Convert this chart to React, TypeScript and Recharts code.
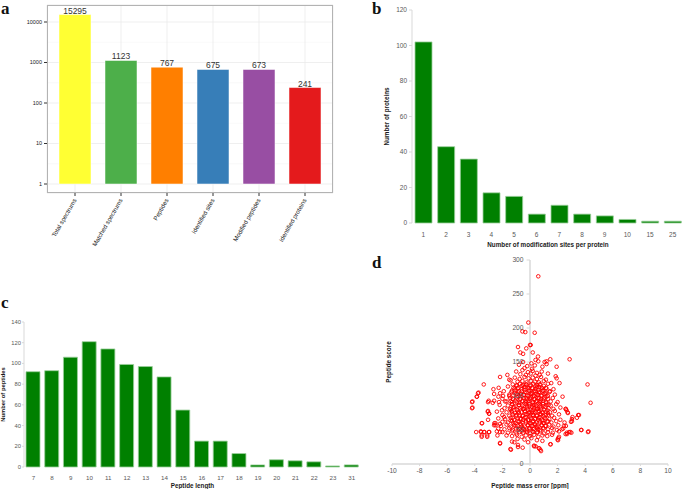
import {
  Bar,
  BarChart,
  CartesianGrid,
  Cell,
  LabelList,
  ReferenceLine,
  Scatter,
  ScatterChart,
  XAxis,
  YAxis,
} from "recharts";

// panel a: search summary (log scale)
const summaryLabels = [
  "Total spectrums",
  "Matched spectrums",
  "Peptides",
  "Identified sites",
  "Modified peptides",
  "Identified proteins",
];
const summaryCounts = [15295, 1123, 767, 675, 673, 241];
const summaryColors = ["#FFFF33", "#4DAF4A", "#FF7F00", "#377EB8", "#984EA3", "#E41A1C"];
const logTicks = [1, 10, 100, 1000, 10000];
const logMinorTicks = [3.162, 31.62, 316.2, 3162];

// panel b: sites per protein
const siteCounts = ["1", "2", "3", "4", "5", "6", "7", "8", "9", "10", "15", "25"];
const proteinsPerSite = [102, 43, 36, 17, 15, 5, 10, 5, 4, 2, 1, 1];
const proteinTicks = [0, 20, 40, 60, 80, 100, 120];

// panel c: peptide length
const peptideLengths = ["7", "8", "9", "10", "11", "12", "13", "14", "15", "16", "17", "18", "19", "20", "21", "22", "23", "31"];
const peptidesPerLength = [92, 93, 106, 121, 114, 99, 97, 87, 55, 25, 25, 13, 2, 7, 6, 5, 1, 2];
const peptideTicks = [0, 20, 40, 60, 80, 100, 120, 140];

// panel d: mass error [ppm] vs score
const massErrorTicks = [-10, -8, -6, -4, -2, 0, 2, 4, 6, 8, 10];
const scoreTicks = [0, 50, 100, 150, 200, 250, 300];
const scorePoints: [number, number][] = [
  // sparse outliers
  [0.6, 276], [-0.12, 208], [-0.55, 195], [-0.34, 194], [0.34, 193], [-0.87, 172], [0, 175], [0.05, 175],
  [-0.27, 170], [-0.7, 164], [-0.5, 162], [0.2, 164], [0.58, 158], [0.4, 153], [1.06, 150], [1.2, 151],
  [1.47, 154], [2.87, 154], [1.93, 143], [-1.64, 131], [-2.17, 128], [-1.5, 124], [-3.35, 117], [-3.73, 105],
  [-3.86, 99], [-4.17, 92], [-4.17, 83], [-2.99, 93], [-2.7, 90], [-2.65, 110], [-2.27, 112], [-2.6, 103],
  [-2.29, 99], [-1.95, 100], [-1.8, 92], [-3.06, 77], [-2.96, 74], [-3.04, 65], [-3.47, 60], [-3.9, 47],
  [-3.57, 48], [-3.5, 42], [-3.1, 42], [-2.96, 47], [-3.3, 47], [-2.4, 48], [-2.17, 47], [-2.58, 60],
  [-2.5, 57], [-2.36, 42], [-2.17, 30], [-1.42, 22], [-1.13, 32], [-0.87, 28], [-0.53, 24], [-0.14, 32],
  [0.29, 27], [0.41, 26], [0.67, 23], [0.75, 21], [1.47, 29], [2, 36], [2.05, 38], [2.58, 44], [2.67, 46],
  [2.92, 47], [3, 46], [3.73, 50], [4.24, 48], [4.17, 117], [4.39, 90], [3.49, 72], [3.4, 68], [3.04, 66],
  [3.08, 69], [3.04, 63], [2.72, 76], [2.58, 81], [2.65, 79], [2.36, 99], [1.86, 129], [1.93, 126],
  [2.14, 119], [1.54, 119], [1.42, 106], [2.6, 81], [2.75, 75], [3.55, 72], [2.97, 62], [3.7, 50], [4.2, 47],
  [2.83, 47], [2.68, 44], [2.46, 56], [2.3, 51], [2.1, 40], [2.03, 35], [1.5, 29], [0.3, 26], [0.65, 23],
  [0.8, 19], [-3.77, 104], [-3.84, 99], [-4.2, 91], [-4.2, 82], [-3.04, 91], [-2.6, 93], [-2.25, 91],
  [-3.04, 78], [-2.97, 74], [-3.5, 60], [-3.55, 47], [-3.33, 47], [-2.97, 47], [-3.5, 40], [-3.1, 40],
  [-2.17, 31], [-1.38, 21], [-0.87, 25], [-2.17, 104], [-2.5, 60], [-2.17, 59], [-1.88, 69], [-2.03, 79],
  // main cloud
  [-0.5, 150], [0.1, 148], [0.6, 151], [-0.8, 146], [-0.2, 144], [0.35, 145], [0.9, 143], [-0.4, 141], [0.15, 140], [1.2, 147],
  [-1, 136], [-0.55, 138], [-0.15, 135], [0.2, 137], [0.5, 134], [0.85, 136], [-0.7, 132], [-0.3, 131], [0.05, 133], [0.4, 130], [0.7, 131], [1.3, 133],
  [-1.1, 127], [-0.75, 125], [-0.4, 128], [-0.1, 126], [0.2, 127], [0.5, 125], [0.8, 128], [1.15, 124],
  [-0.9, 121], [-0.55, 122], [-0.25, 120], [0.05, 122], [0.35, 121], [0.65, 120], [1, 122], [-1.4, 123],
  [-1.25, 117], [-1, 115], [-0.75, 118], [-0.5, 116], [-0.25, 117], [0, 115], [0.25, 118], [0.5, 116], [0.75, 117], [1, 115], [1.3, 118],
  [-1.6, 114], [-1.1, 111], [-0.85, 112], [-0.6, 110], [-0.35, 113], [-0.1, 111], [0.15, 112], [0.4, 110], [0.65, 113], [0.9, 111], [1.15, 112], [1.7, 110],
  [-1.9, 107], [-1.35, 106], [-1.1, 108], [-0.85, 105], [-0.6, 107], [-0.35, 106], [-0.1, 108], [0.15, 105], [0.4, 107], [0.65, 106], [0.9, 108], [1.15, 105], [1.45, 107],
  [-1.5, 102], [-1.2, 101], [-0.95, 103], [-0.7, 100], [-0.45, 102], [-0.2, 101], [0.05, 103], [0.3, 100], [0.55, 102], [0.8, 101], [1.05, 103], [1.3, 100], [1.8, 102],
  [-2, 96], [-1.45, 97], [-1.2, 95], [-0.95, 98], [-0.7, 96], [-0.45, 97], [-0.2, 95], [0.05, 98], [0.3, 96], [0.55, 97], [0.8, 95], [1.05, 98], [1.3, 96], [1.65, 97],
  [-1.7, 92], [-1.3, 91], [-1.05, 93], [-0.8, 90], [-0.55, 92], [-0.3, 91], [-0.05, 93], [0.2, 90], [0.45, 92], [0.7, 91], [0.95, 93], [1.2, 90], [1.5, 92], [2, 91],
  [-2.2, 87], [-1.6, 86], [-1.3, 88], [-1.05, 85], [-0.8, 87], [-0.55, 86], [-0.3, 88], [-0.05, 85], [0.2, 87], [0.45, 86], [0.7, 88], [0.95, 85], [1.2, 87], [1.5, 86], [1.9, 88],
  [-1.85, 82], [-1.45, 81], [-1.2, 83], [-0.95, 80], [-0.7, 82], [-0.45, 81], [-0.2, 83], [0.05, 80], [0.3, 82], [0.55, 81], [0.8, 83], [1.05, 80], [1.35, 82], [1.7, 81], [2.2, 83],
  [-2.4, 77], [-1.7, 76], [-1.35, 78], [-1.1, 75], [-0.85, 77], [-0.6, 76], [-0.35, 78], [-0.1, 75], [0.15, 77], [0.4, 76], [0.65, 78], [0.9, 75], [1.15, 77], [1.45, 76], [1.8, 78],
  [-2, 72], [-1.5, 71], [-1.25, 73], [-1, 70], [-0.75, 72], [-0.5, 71], [-0.25, 73], [0, 70], [0.25, 72], [0.5, 71], [0.75, 73], [1, 70], [1.3, 72], [1.6, 71], [2.1, 73],
  [-2.3, 67], [-1.8, 66], [-1.4, 68], [-1.15, 65], [-0.9, 67], [-0.65, 66], [-0.4, 68], [-0.15, 65], [0.1, 67], [0.35, 66], [0.6, 68], [0.85, 65], [1.1, 67], [1.4, 66], [1.75, 68], [2.2, 65],
  [-2, 62], [-1.6, 61], [-1.3, 63], [-1.05, 60], [-0.8, 62], [-0.55, 61], [-0.3, 63], [-0.05, 60], [0.2, 62], [0.45, 61], [0.7, 63], [0.95, 60], [1.25, 62], [1.55, 61], [1.9, 63], [2.5, 61],
  [-2.6, 57], [-2.1, 56], [-1.7, 58], [-1.4, 55], [-1.15, 57], [-0.9, 56], [-0.65, 58], [-0.4, 55], [-0.15, 57], [0.1, 56], [0.35, 58], [0.6, 55], [0.85, 57], [1.1, 56], [1.4, 58], [1.7, 55], [2.05, 57], [2.6, 56],
  [-2.3, 52], [-1.85, 51], [-1.5, 53], [-1.25, 50], [-1, 52], [-0.75, 51], [-0.5, 53], [-0.25, 50], [0, 52], [0.25, 51], [0.5, 53], [0.75, 50], [1, 52], [1.3, 51], [1.6, 53], [1.95, 50], [2.4, 52],
  [-2, 47], [-1.6, 46], [-1.3, 48], [-1, 45], [-0.75, 47], [-0.5, 46], [-0.25, 48], [0, 45], [0.25, 47], [0.5, 46], [0.75, 48], [1, 45], [1.3, 47], [1.65, 46], [2.1, 48],
  [-1.7, 42], [-1.3, 41], [-0.95, 43], [-0.6, 40], [-0.3, 42], [0, 41], [0.3, 43], [0.6, 40], [0.9, 42], [1.25, 41], [1.6, 43],
  [-0.9, 37], [-0.4, 36], [0.1, 38], [0.5, 35], [-1.3, 33], [0.9, 34],
  // dense core
  [-0.95, 116], [-0.6, 115], [-0.3, 117], [0.05, 116], [0.4, 115], [0.7, 117],
  [-1.2, 112], [-0.9, 111], [-0.45, 113], [-0.1, 112], [0.2, 111], [0.5, 113], [0.85, 112], [1.2, 111],
  [-1.3, 108], [-0.8, 107], [-0.4, 109], [-0.05, 108], [0.3, 107], [0.6, 109], [0.95, 108],
  [-1.1, 104], [-0.65, 103], [-0.25, 105], [0.1, 104], [0.45, 103], [0.75, 105], [1.1, 104],
  [-1.5, 100], [-0.85, 99], [-0.45, 101], [-0.1, 100], [0.2, 99], [0.55, 101], [0.85, 100], [1.2, 99],
  [-1.25, 96], [-0.7, 95], [-0.3, 97], [0, 96], [0.35, 95], [0.65, 97], [1, 96],
  [-1.4, 92], [-0.95, 91], [-0.55, 93], [-0.15, 92], [0.2, 91], [0.5, 93], [0.8, 92], [1.15, 91],
  [-1.3, 88], [-0.8, 87], [-0.4, 89], [-0.05, 88], [0.3, 87], [0.6, 89], [0.95, 88], [1.35, 87],
  [-1.15, 84], [-0.6, 83], [-0.2, 85], [0.15, 84], [0.45, 83], [0.75, 85], [1.1, 84],
  [-1.4, 80], [-0.9, 79], [-0.5, 81], [-0.15, 80], [0.2, 79], [0.5, 81], [0.8, 80], [1.25, 79],
  [-1.3, 76], [-0.8, 75], [-0.4, 77], [-0.05, 76], [0.25, 75], [0.55, 77], [0.9, 76], [1.3, 75],
  [-1, 72], [-0.55, 71], [-0.15, 73], [0.2, 72], [0.5, 71], [0.8, 73], [1.15, 72],
  [-1.25, 68], [-0.7, 67], [-0.3, 69], [0.05, 68], [0.4, 67], [0.7, 69], [1.05, 68],
  [-1.4, 64], [-0.9, 63], [-0.5, 65], [-0.1, 64], [0.25, 63], [0.6, 65], [0.95, 64], [1.3, 63],
  [-1.2, 60], [-0.7, 59], [-0.3, 61], [0.05, 60], [0.35, 59], [0.7, 61], [1, 60],
  [-1.05, 56], [-0.6, 55], [-0.15, 57], [0.2, 56], [0.5, 55], [0.85, 57], [1.15, 56],
  [-0.85, 52], [-0.45, 51], [-0.05, 53], [0.3, 52], [0.6, 51], [0.95, 53],
  [-0.6, 48], [-0.2, 47], [0.2, 48], [0.55, 47],
];

const summaryData = summaryLabels.map((name, i) => ({ name, value: summaryCounts[i] }));
const siteData = siteCounts.map((site, i) => ({ site, proteins: proteinsPerSite[i] }));
const lengthData = peptideLengths.map((len, i) => ({ len, peptides: peptidesPerLength[i] }));
const scatterData = scorePoints.map(([x, y]) => ({ x, y }));

const SANS = "'Liberation Sans', Arial, sans-serif";
const EXCEL_GREY = "#595959";
const EXCEL_AXIS = "#d9d9d9";
const barGreen = "#008000";

function RotatedTick({ x, y, payload }: { x?: number; y?: number; payload?: { value: string } }) {
  const ty = (y ?? 0) + 1;
  return (
    <text
      x={x}
      y={ty}
      transform={`rotate(-60 ${x} ${ty})`}
      textAnchor="end"
      dy="0.35em"
      fontSize={6.2}
      fontFamily={SANS}
      fill="#1a1a1a"
    >
      {payload?.value}
    </text>
  );
}

function CircleDot(props: { cx?: number; cy?: number }) {
  return <circle cx={props.cx} cy={props.cy} r={1.8} fill="none" stroke="#ff0000" strokeWidth={0.9} />;
}

const axisTitle = { fontSize: 6.3, fontWeight: 700, fill: "#1a1a1a", fontFamily: SANS };

export default function App() {
  return (
    <div style={{ position: "absolute", left: 0, top: 0, width: 685, height: 489, background: "#fff", overflow: "hidden" }}>
      {/* a */}
      <div style={{ position: "absolute", left: 0, top: 0 }}>
        <BarChart width={340} height={250} data={summaryData} margin={{ top: 5, right: 7, bottom: 0, left: 0 }}>
          <CartesianGrid yAxisId="minor" vertical={false} stroke="#f3f3f3" strokeWidth={0.5} />
          <CartesianGrid stroke="#ebebeb" strokeWidth={0.8} />
          <XAxis
            dataKey="name"
            height={57}
            interval={0}
            padding={{ left: 5, right: 5 }}
            axisLine={false}
            tickSize={3}
            tickLine={{ stroke: "#333" }}
            tick={<RotatedTick />}
          />
          <YAxis
            scale="log"
            domain={[0.6, 26300]}
            allowDataOverflow
            ticks={logTicks}
            width={47}
            axisLine={false}
            tickSize={3}
            tickLine={{ stroke: "#333" }}
            tick={{ fontSize: 5.5, fill: "#1a1a1a", fontFamily: SANS }}
          />
          <YAxis yAxisId="minor" scale="log" domain={[0.6, 26300]} allowDataOverflow ticks={logMinorTicks} hide />
          <Bar dataKey={(d: { value: number }) => [1, d.value]} barSize={32} stroke="#ffffff" strokeOpacity={0.5} isAnimationActive={false}>
            {summaryData.map((d, i) => (
              <Cell key={d.name} fill={summaryColors[i]} />
            ))}
            <LabelList dataKey="value" position="top" offset={1} fontSize={8.5} fill="#333" fontFamily={SANS} />
          </Bar>
        </BarChart>
        <div style={{ position: "absolute", left: 47, top: 5, width: 286, height: 188, border: "1px solid #b3b3b3", boxSizing: "border-box" }} />
      </div>

      {/* b */}
      <div style={{ position: "absolute", left: 340, top: 0 }}>
        <BarChart width={345} height={250} data={siteData} margin={{ top: 10, right: 1, bottom: 0, left: 0 }}>
          <XAxis
            xAxisId="edges"
            type="number"
            domain={[0, siteCounts.length]}
            ticks={siteCounts.map((_, i) => i).concat(siteCounts.length)}
            height={0}
            tick={false}
            tickSize={3}
            tickLine={{ stroke: EXCEL_AXIS }}
            axisLine={{ stroke: EXCEL_AXIS }}
          />
          <XAxis
            dataKey="site"
            height={27}
            interval={0}
            axisLine={false}
            tickLine={false}
            tickMargin={3}
            tick={{ fontSize: 6.5, fill: EXCEL_GREY, fontFamily: SANS }}
            label={{ value: "Number of modification sites per protein", position: "insideBottom", offset: 3, style: axisTitle }}
          />
          <YAxis
            domain={[0, 120]}
            ticks={proteinTicks}
            width={72}
            axisLine={{ stroke: EXCEL_AXIS }}
            tickSize={3}
            tickLine={{ stroke: EXCEL_AXIS }}
            tick={{ fontSize: 6.5, fill: EXCEL_GREY, fontFamily: SANS }}
            label={{ value: "Number of proteins", angle: -90, position: "center", dx: 11, style: axisTitle }}
          />
          <Bar dataKey="proteins" barSize={17} fill={barGreen} stroke="#9ccf9c" strokeWidth={0.8} isAnimationActive={false} />
        </BarChart>
      </div>

      {/* c */}
      <div style={{ position: "absolute", left: 0, top: 290 }}>
        <BarChart width={390} height={199} data={lengthData} margin={{ top: 32, right: 29, bottom: 0, left: 0 }}>
          <XAxis
            xAxisId="edges"
            type="number"
            domain={[0, peptideLengths.length]}
            ticks={peptideLengths.map((_, i) => i).concat(peptideLengths.length)}
            height={0}
            tick={false}
            tickSize={3}
            tickLine={{ stroke: EXCEL_AXIS }}
            axisLine={{ stroke: EXCEL_AXIS }}
          />
          <XAxis
            dataKey="len"
            height={22}
            interval={0}
            axisLine={false}
            tickLine={false}
            tickMargin={3}
            tick={{ fontSize: 6.2, fill: EXCEL_GREY, fontFamily: SANS }}
            label={{ value: "Peptide length", position: "insideBottom", offset: 1, style: axisTitle }}
          />
          <YAxis
            domain={[0, 140]}
            ticks={peptideTicks}
            width={24}
            axisLine={{ stroke: EXCEL_AXIS }}
            tickSize={2}
            tickMargin={1}
            tickLine={{ stroke: EXCEL_AXIS }}
            tick={{ fontSize: 5.8, fill: EXCEL_GREY, fontFamily: SANS }}
            label={{ value: "Number of peptides", angle: -90, position: "center", dx: -9, style: { ...axisTitle, fontSize: 5.8 } }}
          />
          <Bar dataKey="peptides" barSize={14} fill={barGreen} stroke="#9ccf9c" strokeWidth={0.8} isAnimationActive={false} />
        </BarChart>
      </div>

      {/* d */}
      <div style={{ position: "absolute", left: 370, top: 250 }}>
        <ScatterChart width={315} height={239} margin={{ top: 10, right: 17, bottom: 0, left: 22 }}>
          <XAxis
            type="number"
            dataKey="x"
            domain={[-10, 10]}
            ticks={massErrorTicks}
            interval={0}
            height={25}
            axisLine={{ stroke: EXCEL_AXIS, strokeWidth: 1.5 }}
            tickSize={2}
            tickMargin={2}
            tickLine={{ stroke: EXCEL_AXIS }}
            tick={{ fontSize: 6.7, fill: EXCEL_GREY, fontFamily: SANS }}
            label={{ value: "Peptide mass error [ppm]", position: "insideBottom", offset: 1, style: { ...axisTitle, fontSize: 6.4 } }}
          />
          <YAxis type="number" dataKey="y" domain={[0, 300]} hide />
          <ReferenceLine
            segment={[{ x: 0, y: 0 }, { x: 0, y: 300 }]}
            stroke={EXCEL_AXIS}
            strokeWidth={1.5}
          />
          {scoreTicks.map((v) => (
            <ReferenceLine
              key={v}
              segment={[{ x: -0.25, y: v }, { x: 0, y: v }]}
              stroke={EXCEL_AXIS}
              label={{ value: String(v), position: "left", offset: 3, fontSize: 6.7, fill: EXCEL_GREY, fontFamily: SANS }}
            />
          ))}
          <Scatter data={scatterData} shape={<CircleDot />} isAnimationActive={false} />
        </ScatterChart>
      </div>

      <svg width={685} height={489} style={{ position: "absolute", left: 0, top: 0, pointerEvents: "none" }}>
        <g fontFamily="'Liberation Serif', 'Times New Roman', serif" fontWeight={700} fontSize={17} fill="#111">
          <text x={1} y={13.5}>a</text>
          <text x={372} y={13.5}>b</text>
          <text x={1} y={308}>c</text>
          <text x={372} y={268}>d</text>
        </g>
        <text x={391} y={362} transform="rotate(-90 391 362)" textAnchor="middle" style={axisTitle}>
          Peptide score
        </text>
      </svg>
    </div>
  );
}
